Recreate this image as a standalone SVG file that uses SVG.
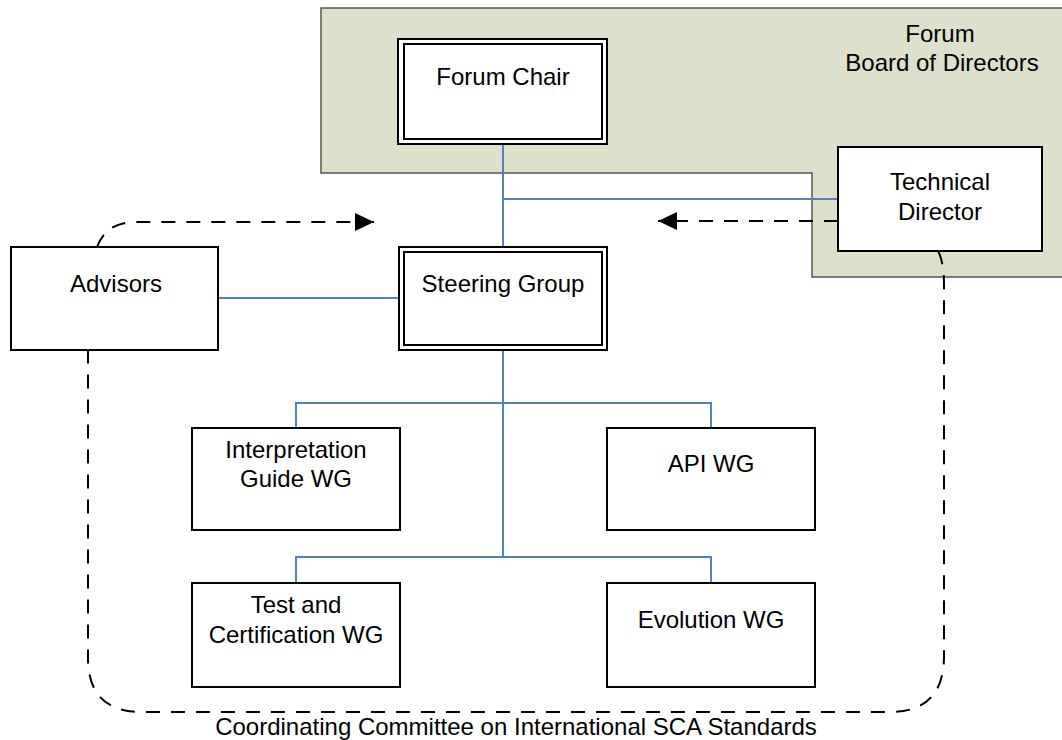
<svg xmlns="http://www.w3.org/2000/svg" width="1062" height="740" viewBox="0 0 1062 740">
<style>
.t{font-family:"Liberation Sans",Arial,sans-serif;font-size:24px;fill:#000;text-anchor:middle}
.box{fill:#fff;stroke:#000;stroke-width:2}
.in{fill:none;stroke:#000;stroke-width:2}
.blue{fill:none;stroke:#4f81bd;stroke-width:2}
.dash{fill:none;stroke:#000;stroke-width:2;stroke-dasharray:14 11}
</style>
<defs>
<marker id="ah" markerUnits="userSpaceOnUse" markerWidth="20" markerHeight="20" refX="19" refY="9" orient="auto">
<path d="M0,0 L19,9 L0,18 Z" fill="#000"/>
</marker>
</defs>
<rect width="1062" height="740" fill="#fff"/>
<g id="board">
<polygon points="321,8 1064,8 1064,277 812,277 812,173 321,173" fill="#dde0cb" stroke="#555" stroke-width="1.5"/>
<text class="t" x="940" y="42">Forum</text>
<text class="t" x="942" y="71">Board of Directors</text>
</g>
<g id="connectors">
<path class="blue" d="M503,144 V247 M503,199 H838 M218,298 H399 M503,350 V557 M296,428 V403 H711 V428 M296,583 V557 H711 V583"/>
<path class="dash" d="M97,247 Q106,222 136,222 H374" marker-end="url(#ah)"/>
<path class="dash" d="M838,221 H658" marker-end="url(#ah)"/>
<path class="dash" d="M938,251 Q944,262 944,285 V656 Q944,712 890,712 H142 Q88,712 88,658 V350"/>
</g>
<g id="forum-chair">
<rect class="box" x="398" y="39" width="209" height="105"/>
<rect class="in" x="404" y="44" width="198" height="95"/>
<text class="t" x="503" y="85">Forum Chair</text>
</g>
<g id="technical-director">
<rect class="box" x="838" y="147" width="204" height="104"/>
<text class="t" x="940" y="190">Technical</text>
<text class="t" x="940" y="220">Director</text>
</g>
<g id="steering-group">
<rect class="box" x="399" y="247" width="208" height="103"/>
<rect class="in" x="404" y="252" width="198" height="93"/>
<text class="t" x="503" y="292">Steering Group</text>
</g>
<g id="advisors">
<rect class="box" x="11" y="247" width="207" height="103"/>
<text class="t" x="116" y="292">Advisors</text>
</g>
<g id="interpretation-guide-wg">
<rect class="box" x="192" y="428" width="208" height="102"/>
<text class="t" x="296" y="458">Interpretation</text>
<text class="t" x="296" y="487">Guide WG</text>
</g>
<g id="api-wg">
<rect class="box" x="607" y="428" width="208" height="102"/>
<text class="t" x="711" y="472">API WG</text>
</g>
<g id="test-certification-wg">
<rect class="box" x="192" y="583" width="208" height="104"/>
<text class="t" x="296" y="613">Test and</text>
<text class="t" x="296" y="643">Certification WG</text>
</g>
<g id="evolution-wg">
<rect class="box" x="607" y="583" width="208" height="104"/>
<text class="t" x="711" y="628">Evolution WG</text>
</g>
<text class="t" x="516" y="735">Coordinating Committee on International SCA Standards</text>
</svg>
